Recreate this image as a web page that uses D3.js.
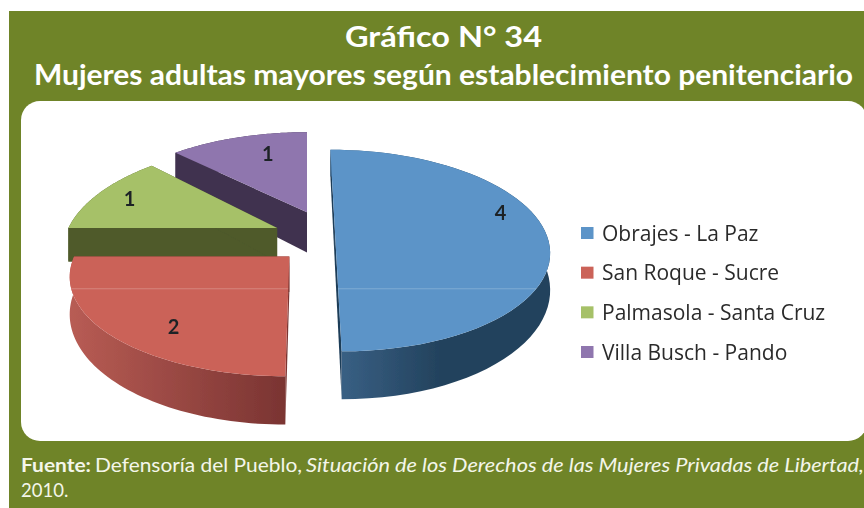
<!DOCTYPE html>
<html><head><meta charset="utf-8">
<script src="https://cdn.jsdelivr.net/npm/d3@7"></script>
<style>html,body{margin:0;padding:0;background:#fff;overflow:hidden}svg{display:block}</style>
</head><body><svg id="c" width="864" height="508"></svg>
<script>
const categories = ["Obrajes - La Paz","San Roque - Sucre","Palmasola - Santa Cruz","Villa Busch - Pando"];
const values = [4,2,1,1];
const titleLines = ["Gráfico N° 34","Mujeres adultas mayores según establecimiento penitenciario"];
const topColors = ["#5b94c8","#cb6259","#a6c168","#8f76ae"];
const edgeColors = ["#1f3d58","#7b3532","#4f5a2b","#41334f"];
const wallFrom = ["#3b6388","#b85c54","#4f5a2b","#41334f"];
const wallTo = ["#23425d","#7a3432","#4f5a2b","#41334f"];
// layout: world-space pull of each exploded slice, disc stretch and wall height per slice
const pullX = [.133,-.08,-.143,0];
const pullY = [0,-.25,.03,.2];
const squash = [1,.91,1.05,1.07];
const stretch = [1,.975,1,1.05];
const wallScale = [1.02,.97,1,1.25];
const labelAngle = [76.8,216,292,343];
const labelRadius = [.845,.79,.82,.72];

const W=864,H=508, cx=307, cy=231, R=210, Ry=97, k=.194, depth=34;
const svg=d3.select("#c");
const defs=svg.append("defs");
const soft=defs.append("filter").attr("id","soft").attr("x","-5%").attr("y","-5%").attr("width","110%").attr("height","110%");
soft.append("feGaussianBlur").attr("stdDeviation",.55);
const soft2=defs.append("filter").attr("id","soft2").attr("x","-5%").attr("y","-5%").attr("width","110%").attr("height","110%");
soft2.append("feGaussianBlur").attr("stdDeviation",.35);

svg.append("rect").attr("x",9).attr("y",11).attr("width",W-9).attr("height",H-11).attr("fill","#6f8428");
svg.append("rect").attr("x",21).attr("y",101).attr("width",846).attr("height",340).attr("rx",19).attr("fill","#fff");

const color=d3.scaleOrdinal().domain(categories).range(topColors);
const arcs=d3.pie().sort(null).startAngle(0).endAngle(2*Math.PI)(values);
const line=d3.line().x(d=>d[0]).y(d=>d[1]);

function proj(i,a,r,z){
  const X=pullX[i]+r*Math.sin(a)*stretch[i], Y=pullY[i]+r*Math.cos(a)*squash[i];
  const s=1/(1+k*Y);
  return [cx+R*X*s, cy-Ry*Y*s+(z?depth*wallScale[i]*Math.pow(s,1.5):0)];
}
const arcPts=(i,a0,a1,z)=>d3.range(0,61).map(t=>proj(i,a0+(a1-a0)*t/60,1,z));

const g=svg.append("g").attr("filter","url(#soft)");
const clipFaces=defs.append("clipPath").attr("id","faces");
arcs.forEach((d,i)=>{
  const grad=defs.append("linearGradient").attr("id","w"+i).attr("gradientUnits","objectBoundingBox").attr("x1",0).attr("x2",i===0?.5:1);
  grad.append("stop").attr("offset",0).attr("stop-color",wallFrom[i]);
  grad.append("stop").attr("offset",1).attr("stop-color",wallTo[i]);
});
const order=[3,2,1,0];
order.forEach(i=>{
  const d=arcs[i], a0=d.startAngle, a1=d.endAngle, sl=g.append("g");
  const edge=a=>[proj(i,0,0,0),proj(i,a,1,0),proj(i,a,1,1),proj(i,0,0,1)];
  sl.append("path").attr("d",line(edge(a0))+"Z").attr("fill",edgeColors[i]);
  sl.append("path").attr("d",line(edge(a1))+"Z").attr("fill",edgeColors[i]);
  const wall=arcPts(i,a0,a1,0).concat(arcPts(i,a1,a0,1));
  sl.append("path").attr("d",line(wall)+"Z").attr("fill",`url(#w${i})`);
  const face=[proj(i,0,0,0)].concat(arcPts(i,a0,a1,0));
  sl.append("path").attr("d",line(face)+"Z").attr("fill",color(categories[i]));
  if(i<2) clipFaces.append("path").attr("d",line(face)+"Z");
});
g.append("rect").attr("x",21).attr("y",288).attr("width",600).attr("height",1.4).attr("fill","#fff").attr("opacity",.16).attr("clip-path","url(#faces)");

const labels=svg.append("g").attr("filter","url(#soft2)").attr("font-family","Lato").attr("font-weight",700);
arcs.forEach((d,i)=>{
  const p=proj(i,labelAngle[i]*Math.PI/180,labelRadius[i],0);
  labels.append("text").attr("x",p[0]).attr("y",p[1]+7).attr("text-anchor","middle").attr("font-size",20).attr("fill","#1f2326").text(d.data);
});

const y=d3.scalePoint().domain(categories).range([233,352]);
const lg=svg.append("g").attr("filter","url(#soft2)");
categories.forEach(c=>{
  lg.append("rect").attr("x",581).attr("y",y(c)-6).attr("width",12.5).attr("height",12).attr("fill",color(c));
  lg.append("text").attr("x",602).attr("y",y(c)+7.5).attr("font-family","'Open Sans'").attr("font-size",21).attr("fill","#2b2b2b").text(c);
});

const t=svg.append("g").attr("fill","#fff").attr("font-family","Lato").attr("font-weight",700).attr("font-size",29);
t.append("text").attr("x",443.5).attr("y",47).attr("text-anchor","middle").attr("textLength",197).attr("lengthAdjust","spacingAndGlyphs").text(titleLines[0]);
t.append("text").attr("x",34).attr("y",85).attr("textLength",819).attr("lengthAdjust","spacingAndGlyphs").text(titleLines[1]);

const f=svg.append("g").attr("fill","#f4f6ea").attr("font-family","Lato").attr("font-size",18.5);
f.append("text").attr("x",21).attr("y",472).attr("font-weight",700).attr("textLength",70).attr("lengthAdjust","spacingAndGlyphs").text("Fuente:");
f.append("text").attr("x",95).attr("y",472).attr("textLength",207).attr("lengthAdjust","spacingAndGlyphs").text("Defensoría del Pueblo,");
f.append("text").attr("x",306).attr("y",472).attr("font-style","italic").attr("textLength",558).attr("lengthAdjust","spacingAndGlyphs").text("Situación de los Derechos de las Mujeres Privadas de Libertad,");
f.append("text").attr("x",21).attr("y",497).text("2010.");
</script></body></html>
